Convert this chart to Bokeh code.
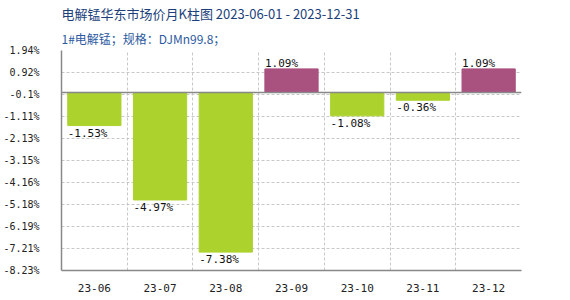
from bokeh.plotting import figure
from bokeh.models import FixedTicker, Range1d, Span, Title, ColumnDataSource, CustomJSTickFormatter
from bokeh.core.properties import value
from bokeh.embed import file_html
from bokeh.resources import INLINE

categories = ["23-06", "23-07", "23-08", "23-09", "23-10", "23-11", "23-12"]
values = [-1.53, -4.97, -7.38, 1.09, -1.08, -0.36, 1.09]
y_ticks = [1.94, 0.92, -0.1, -1.11, -2.13, -3.15, -4.16, -5.18, -6.19, -7.21, -8.23]
title_text = "电解锰华东市场价月K柱图  2023-06-01 - 2023-12-31"
subtitle_text = "1#电解锰；规格：DJMn99.8；"

GREEN = "#acd22e"
PURPLE = "#a9517f"
FONT = "DejaVu Sans Mono"

xs = [i + 0.5 for i in range(len(categories))]
colors = [PURPLE if v > 0 else GREEN for v in values]
labels = ["%.2f%%" % v for v in values]
pos = [v > 0 for v in values]

p = figure(width=570, height=300, output_backend="svg", toolbar_location=None,
           x_range=Range1d(0, len(categories)), y_range=Range1d(min(y_ticks), max(y_ticks)),
           min_border_left=60, min_border_right=49, min_border_top=5, min_border_bottom=30)
p.outline_line_color = None
p.background_fill_color = "white"
p.border_fill_color = "white"

src = ColumnDataSource(dict(x=xs, top=values, color=colors))
p.vbar(x="x", top="top", bottom=0, width=0.81, color="color", source=src)

p.add_layout(Span(location=0, dimension="width", line_color="#888888", line_width=1.5))

pos_src = ColumnDataSource(dict(x=[x - 0.405 for x, q in zip(xs, pos) if q],
                                y=[v for v, q in zip(values, pos) if q],
                                t=[l for l, q in zip(labels, pos) if q]))
neg_src = ColumnDataSource(dict(x=[x - 0.405 for x, q in zip(xs, pos) if not q],
                                y=[v for v, q in zip(values, pos) if not q],
                                t=[l for l, q in zip(labels, pos) if not q]))
p.text(x="x", y="y", text="t", source=pos_src, text_baseline="bottom", text_align="left",
       text_font=value(FONT), text_font_size="11px", text_color="#111111", y_offset=1)
p.text(x="x", y="y", text="t", source=neg_src, text_baseline="top", text_align="left",
       text_font=value(FONT), text_font_size="11px", text_color="#111111", y_offset=1)

p.xaxis.ticker = FixedTicker(ticks=xs)
p.xaxis.major_label_overrides = {x: c for x, c in zip(xs, categories)}
p.yaxis.ticker = FixedTicker(ticks=y_ticks)
p.yaxis.formatter = CustomJSTickFormatter(code="return (Math.round(tick*100)/100).toString() + '%';")

for ax in (p.xaxis[0], p.yaxis[0]):
    ax.axis_line_color = "#888888"
    ax.axis_line_width = 1.5
    ax.major_tick_line_color = None
    ax.minor_tick_line_color = None
    ax.major_label_text_font = FONT
    ax.major_label_text_font_size = "10px"
    ax.major_label_text_color = "#222222"
p.xaxis.major_label_text_font_size = "11px"
p.yaxis.major_label_standoff = 16
p.xaxis.major_label_standoff = 7

p.xgrid.ticker = FixedTicker(ticks=list(range(len(categories) + 1)))
p.ygrid.ticker = FixedTicker(ticks=y_ticks)
for g in (p.xgrid[0], p.ygrid[0]):
    g.grid_line_color = "#c8c8c8"
    g.grid_line_dash = "3 2"
    g.grid_line_width = 1

p.title.text = title_text
p.title.text_color = "#1c3f7a"
p.title.text_font = "Noto Sans CJK SC"
p.title.text_font_size = "13px"
p.title.text_font_style = "normal"
p.title.align = "left"
p.title.offset = 0
p.title.standoff = 2
p.add_layout(Title(text=subtitle_text, text_color="#2d5aa0", text_font="Noto Sans CJK SC",
                   text_font_size="12px", text_font_style="normal", align="left", offset=0,
                   standoff=8), "above")

open("out.html", "w").write(file_html(p, INLINE))
